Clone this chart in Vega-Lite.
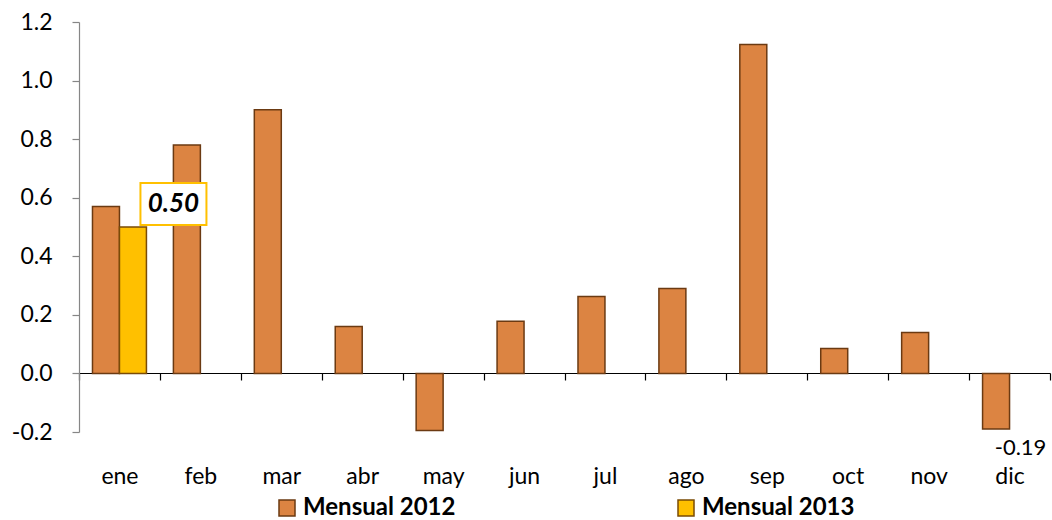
{
  "$schema": "https://vega.github.io/schema/vega-lite/v6.json",
  "width": 971,
  "height": 410,
  "autosize": {"type": "none"},
  "padding": {"left": 79, "top": 22, "right": 2, "bottom": 88},
  "background": "white",
  "config": {
    "view": {"stroke": null},
    "font": "Lato",
    "locale": {"number": {"decimal": ".", "thousands": ",", "grouping": [3], "currency": ["$", ""], "minus": "-"}}
  },
  "data": {
    "values": [
      {"mes": "ene", "serie": "Mensual 2012", "valor": 0.57},
      {"mes": "feb", "serie": "Mensual 2012", "valor": 0.78},
      {"mes": "mar", "serie": "Mensual 2012", "valor": 0.90},
      {"mes": "abr", "serie": "Mensual 2012", "valor": 0.16},
      {"mes": "may", "serie": "Mensual 2012", "valor": -0.195},
      {"mes": "jun", "serie": "Mensual 2012", "valor": 0.178},
      {"mes": "jul", "serie": "Mensual 2012", "valor": 0.263},
      {"mes": "ago", "serie": "Mensual 2012", "valor": 0.29},
      {"mes": "sep", "serie": "Mensual 2012", "valor": 1.123},
      {"mes": "oct", "serie": "Mensual 2012", "valor": 0.085},
      {"mes": "nov", "serie": "Mensual 2012", "valor": 0.14},
      {"mes": "dic", "serie": "Mensual 2012", "valor": -0.19},
      {"mes": "ene", "serie": "Mensual 2013", "valor": 0.50}
    ]
  },
  "encoding": {
    "x": {
      "field": "mes",
      "type": "nominal",
      "sort": ["ene", "feb", "mar", "abr", "may", "jun", "jul", "ago", "sep", "oct", "nov", "dic"],
      "scale": {"paddingInner": 0, "paddingOuter": 0},
      "axis": {
        "title": null,
        "orient": "bottom",
        "offset": -59,
        "labelAngle": 0,
        "labelFontSize": 23,
        "labelColor": "black",
        "labelPadding": 85,
        "domainColor": "black",
        "domainWidth": 1.2,
        "tickColor": "black",
        "tickSize": 7,
        "tickWidth": 1.2,
        "tickBand": "extent",
        "grid": false
      }
    },
    "xOffset": {
      "field": "serie",
      "type": "nominal",
      "scale": {"domain": ["Mensual 2012", "Mensual 2013"], "paddingInner": 0, "paddingOuter": 0.5}
    },
    "y": {
      "field": "valor",
      "type": "quantitative",
      "scale": {"domain": [-0.2, 1.2], "nice": false, "zero": false},
      "axis": {
        "title": null,
        "values": [-0.2, 0, 0.2, 0.4, 0.6, 0.8, 1.0, 1.2],
        "format": ".1f",
        "labelFontSize": 23,
        "labelColor": "black",
        "labelPadding": 20,
        "domainColor": "#868686",
        "domainWidth": 1.2,
        "tickColor": "#868686",
        "tickSize": 7,
        "tickWidth": 1.2,
        "grid": false
      }
    }
  },
  "layer": [
    {
      "mark": {"type": "bar", "strokeWidth": 1.5},
      "encoding": {
        "fill": {
          "field": "serie",
          "type": "nominal",
          "scale": {"domain": ["Mensual 2012", "Mensual 2013"], "range": ["#DC8442", "#FFC000"]},
          "legend": {
            "title": null,
            "orient": "none",
            "direction": "horizontal",
            "legendX": 196,
            "legendY": 474,
            "symbolType": "square",
            "symbolSize": 256,
            "symbolStrokeWidth": 1.5,
            "labelFontSize": 24,
            "labelFontWeight": "bold",
            "labelColor": "black",
            "labelOffset": 4,
            "columnPadding": 218
          }
        },
        "stroke": {
          "field": "serie",
          "type": "nominal",
          "scale": {"domain": ["Mensual 2012", "Mensual 2013"], "range": ["#6B3A12", "#7A4B05"]},
          "legend": null
        }
      }
    },
    {
      "transform": [{"filter": "datum.serie === 'Mensual 2013'"}],
      "mark": {
        "type": "point",
        "shape": "M0.15,-0.88H1.47V-0.04H0.15Z",
        "size": 10000,
        "filled": true,
        "fill": "white",
        "stroke": "#FFC000",
        "strokeWidth": 2,
        "opacity": 1
      }
    },
    {
      "transform": [{"filter": "datum.serie === 'Mensual 2013'"}],
      "mark": {
        "type": "text",
        "dx": 40.5,
        "dy": -23,
        "align": "center",
        "baseline": "middle",
        "fontSize": 26,
        "fontWeight": "bold",
        "fontStyle": "italic",
        "color": "black"
      },
      "encoding": {"text": {"field": "valor", "type": "quantitative", "format": ".2f"}}
    },
    {
      "transform": [{"filter": "datum.mes === 'dic'"}],
      "mark": {
        "type": "text",
        "dx": 24.5,
        "dy": 19,
        "align": "center",
        "baseline": "middle",
        "fontSize": 22,
        "color": "black"
      },
      "encoding": {"text": {"field": "valor", "type": "quantitative", "format": ".2f"}}
    }
  ]
}
